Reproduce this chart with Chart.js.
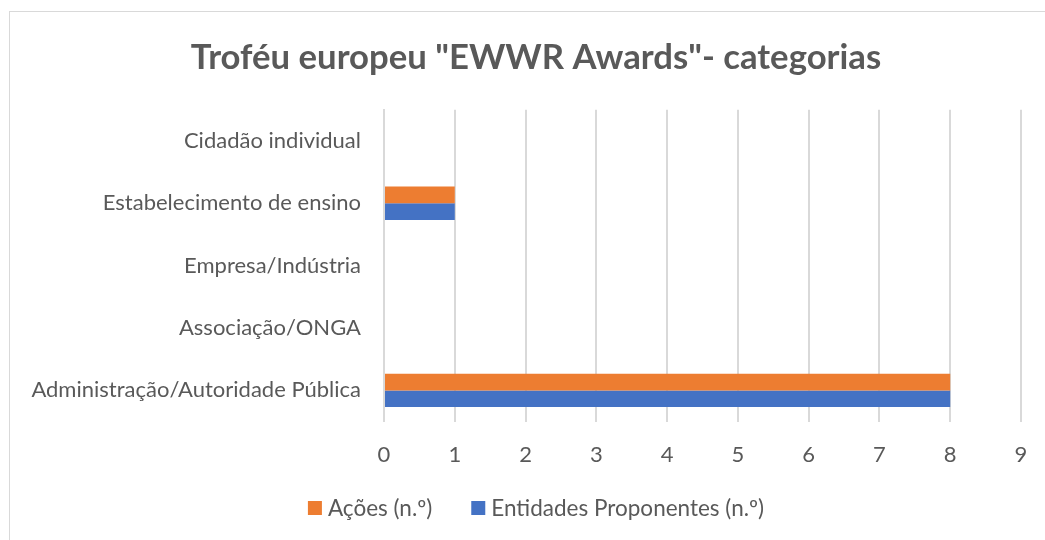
<!DOCTYPE html>
<html>
<head>
<meta charset="utf-8">
<script src="https://cdn.jsdelivr.net/npm/chart.js@4.4.0/dist/chart.umd.min.js"></script>
<style>
  html, body { margin: 0; padding: 0; background: #fff; }
  #wrap { position: relative; width: 1045px; height: 540px; overflow: hidden; }
  #frame { position: absolute; left: 9px; top: 11px; width: 1055px; height: 560px; border: 1px solid #d9d9d9; box-sizing: border-box; }
  #chart { position: absolute; left: 0; top: 0; }
</style>
</head>
<body>
<div id="wrap">
  <div id="frame"></div>
  <canvas id="chart" width="1072" height="540"></canvas>
</div>
<script>
// Data
const categories = [
  "Cidadão individual",
  "Estabelecimento de ensino",
  "Empresa/Indústria",
  "Associação/ONGA",
  "Administração/Autoridade Pública"
];
const acoes = [0, 1, 0, 0, 8];
const entidades = [0, 1, 0, 0, 8];
const xTicks = [0, 1, 2, 3, 4, 5, 6, 7, 8, 9];

const FONT = "Lato, 'Open Sans', sans-serif";
const TEXT = "#595959";
const GRID = "#d9d9d9";

// long y labels spill past the padded box, so don't clip them
const noLabelClip = {
  id: "noLabelClip",
  beforeDraw(chart) {
    chart.scales.y._computeLabelArea = () => undefined;
  }
};

// legend drawn by hand so spacing can match Excel
const excelLegend = {
  id: "excelLegend",
  afterDraw(chart) {
    const ctx = chart.ctx;
    const box = 14, gap = 6, itemGap = 39, y = 508;
    ctx.save();
    ctx.font = "22.5px " + FONT;
    ctx.textBaseline = "middle";
    const items = chart.data.datasets.map(ds => ({
      label: ds.label, color: ds.backgroundColor, w: ctx.measureText(ds.label).width
    }));
    let total = items.reduce((s, it) => s + box + gap + it.w, 0) + itemGap * (items.length - 1);
    let x = chart.width / 2 - total / 2;
    items.forEach(it => {
      ctx.fillStyle = it.color;
      ctx.fillRect(x, y - box / 2, box, box);
      x += box + gap;
      ctx.fillStyle = TEXT;
      ctx.fillText(it.label, x, y + 1);
      x += it.w + itemGap;
    });
    ctx.restore();
  }
};

new Chart(document.getElementById("chart"), {
  type: "bar",
  data: {
    labels: categories,
    datasets: [
      { label: "Ações (n.º)", data: acoes, backgroundColor: "#ED7D31" },
      { label: "Entidades Proponentes (n.º)", data: entidades, backgroundColor: "#4472C4" }
    ]
  },
  options: {
    indexAxis: "y",
    responsive: false,
    animation: false,
    devicePixelRatio: 1,
    layout: { padding: { left: 51, right: 51, top: 0, bottom: 52 } },
    datasets: { bar: { categoryPercentage: 0.535, barPercentage: 1 } },
    scales: {
      x: {
        min: 0,
        max: 9,
        afterBuildTicks: s => { s.ticks = xTicks.map(v => ({ value: v })); },
        grid: { color: GRID, lineWidth: 2, drawTicks: false },
        border: { display: false },
        ticks: { color: TEXT, font: { family: FONT, size: 22 }, padding: 20 }
      },
      y: {
        grid: { display: false, drawTicks: false },
        border: { color: GRID, width: 2 },
        afterFit: s => { s.width = 333; },
        ticks: { color: TEXT, font: { family: FONT, size: 22 }, padding: 23 }
      }
    },
    plugins: {
      legend: { display: false },
      tooltip: { enabled: false },
      title: {
        display: true,
        text: 'Troféu europeu "EWWR Awards"- categorias',
        color: TEXT,
        font: { family: FONT, size: 34.7, weight: "bold" },
        padding: { top: 37, bottom: 31 }
      }
    }
  },
  plugins: [noLabelClip, excelLegend]
});
</script>
</body>
</html>
